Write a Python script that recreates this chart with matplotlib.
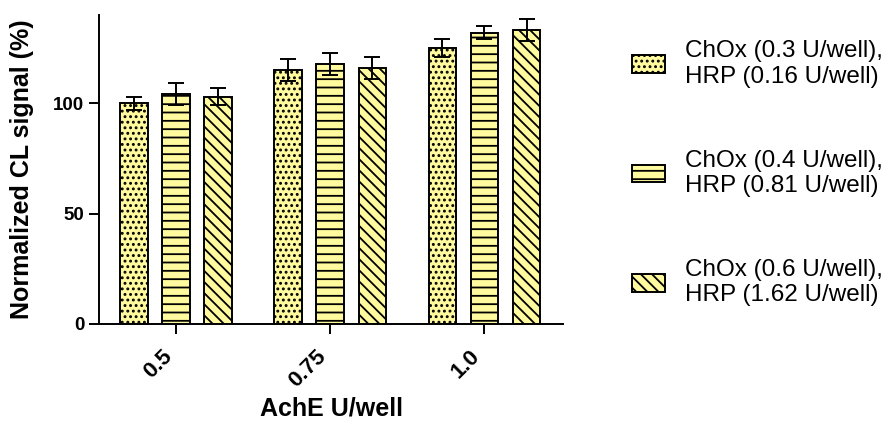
import matplotlib.pyplot as plt
import numpy as np

plt.rcParams['font.family'] = ['Liberation Sans', 'DejaVu Sans']
plt.rcParams['hatch.linewidth'] = 1.3

# data
groups = ['0.5', '0.75', '1.0']
series = ['ChOx (0.3 U/well),\nHRP (0.16 U/well)',
          'ChOx (0.4 U/well),\nHRP (0.81 U/well)',
          'ChOx (0.6 U/well),\nHRP (1.62 U/well)']
means = [[100, 115, 125],
         [104, 118, 132],
         [103, 116, 133]]
errs = [[3, 5, 4],
        [5, 5, 3],
        [4, 5, 5]]
hatches = ['...', '--', '\\\\\\']

fill = '#fffa9e'
x = np.arange(len(groups))
w = 0.18
off = 0.273

fig = plt.figure(figsize=(8.89, 4.28), dpi=100)
ax = fig.add_axes([0.1114, 0.243, 0.522, 0.722])

for i in range(3):
    ax.bar(x + (i - 1) * off, means[i], w, yerr=errs[i], color=fill,
           edgecolor='black', linewidth=1.4, hatch=hatches[i], label=series[i],
           error_kw=dict(ecolor='black', elinewidth=1.4, capsize=6, capthick=1.4))

ax.set_xlim(-0.5, 2.51)
ax.set_ylim(0, 140)
ax.spines['top'].set_visible(False)
ax.spines['right'].set_visible(False)
ax.spines['left'].set_linewidth(1.4)
ax.spines['bottom'].set_linewidth(1.4)
ax.tick_params(axis='both', width=1.4, length=7)
ax.tick_params(axis='x', pad=9)
ax.set_yticks([0, 50, 100])
ax.set_yticklabels(['0', '50', '100'], fontsize=13.5, fontweight='bold')
ax.set_xticks(x)
ax.set_xticklabels(groups, rotation=45, ha='right', fontsize=16, fontweight='bold')

ax.set_ylabel('Normalized CL signal (%)', fontsize=18, fontweight='bold')
ax.yaxis.set_label_coords(-0.14, 0.5)
ax.set_xlabel('AchE U/well', fontsize=18, fontweight='bold')
ax.xaxis.set_label_coords(0.5, -0.236)

fig.legend(loc='upper left', bbox_to_anchor=(0.686, 0.957), frameon=False,
           fontsize=17.5, handlelength=1.35, handleheight=0.74, handletextpad=0.86,
           labelspacing=2.55)

plt.savefig('out.png', dpi=100)
